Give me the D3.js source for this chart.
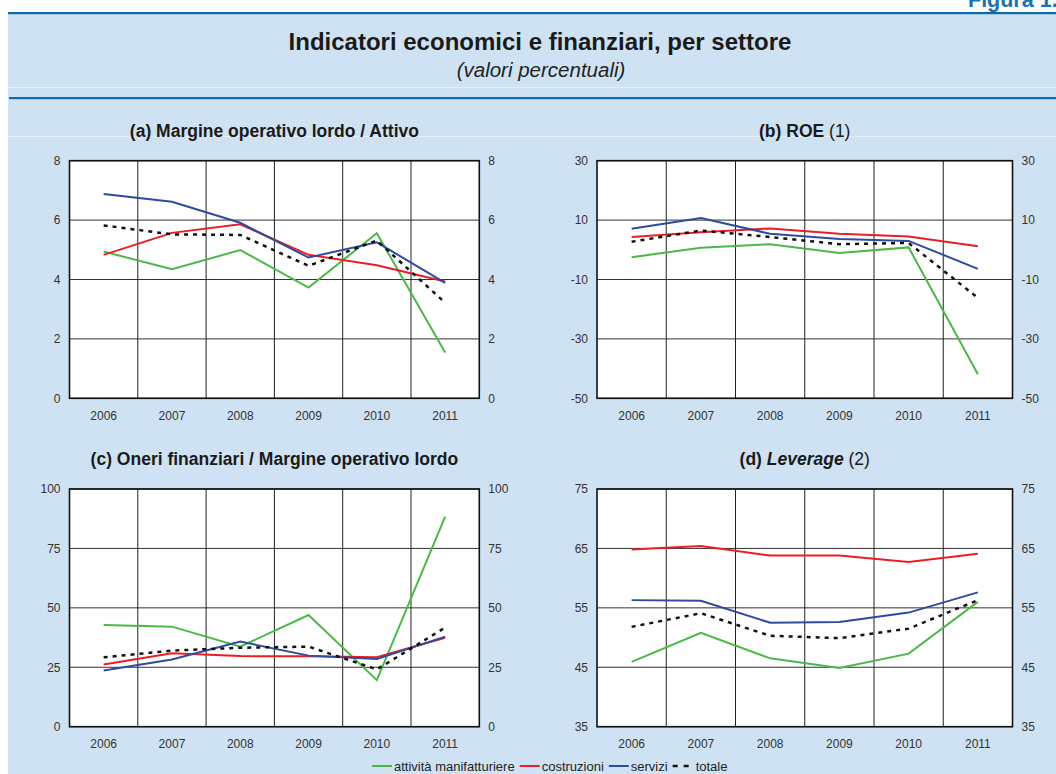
<!DOCTYPE html>
<html>
<head>
<meta charset="utf-8">
<script src="https://cdn.jsdelivr.net/npm/d3@7"></script>
<style>
  body { margin: 0; background: #fff; }
  svg { display: block; font-family: "Liberation Sans", Arial, sans-serif; }
</style>
</head>
<body>
<svg id="chart" width="1056" height="774"></svg>
<script>
// categories and series
const anni = ["2006", "2007", "2008", "2009", "2010", "2011"];
const settori = ["attività manifatturiere", "costruzioni", "servizi", "totale"];

// (a) Margine operativo lordo / Attivo
const molManif = [4.94, 4.35, 4.99, 3.73, 5.56, 1.54];
const molCostr = [4.83, 5.57, 5.86, 4.83, 4.48, 3.93];
const molServ  = [6.88, 6.62, 5.91, 4.74, 5.25, 3.89];
const molTot   = [5.82, 5.52, 5.50, 4.46, 5.31, 3.22];

// (b) ROE
const roeManif = [-2.5, 0.7, 1.9, -1.1, 0.8, -41.9];
const roeCostr = [4.3, 5.9, 7.2, 5.4, 4.5, 1.2];
const roeServ  = [7.1, 10.7, 5.4, 3.6, 3.0, -6.4];
const roeTot   = [2.7, 6.5, 4.3, 1.9, 2.3, -16.2];

// (c) Oneri finanziari / Margine operativo lordo
const oneriManif = [42.8, 42.1, 33.7, 47.0, 19.6, 88.4];
const oneriCostr = [26.2, 30.9, 29.7, 29.6, 29.2, 37.4];
const oneriServ  = [23.6, 28.3, 35.8, 29.9, 28.5, 37.9];
const oneriTot   = [29.2, 32.0, 33.2, 33.7, 24.1, 41.7];

// (d) Leverage
const levManif = [45.9, 50.8, 46.5, 44.9, 47.3, 56.0];
const levCostr = [64.8, 65.4, 63.8, 63.8, 62.7, 64.1];
const levServ  = [56.3, 56.2, 52.5, 52.6, 54.2, 57.6];
const levTot   = [51.8, 54.1, 50.3, 49.9, 51.5, 56.3];

// tick labels
const ticksA = [0, 2, 4, 6, 8];
const ticksB = [-50, -30, -10, 10, 30];
const ticksC = [0, 25, 50, 75, 100];
const ticksD = [35, 45, 55, 65, 75];

const colori = ["#4cb848", "#ec1c24", "#2d4b9f", "#111"];

const svg = d3.select("#chart");

// background frame
svg.append("rect").attr("x", 8).attr("y", 13).attr("width", 1048).attr("height", 761)
  .attr("fill", "#cfe2f3");
svg.append("rect").attr("x", 8).attr("y", 12).attr("width", 1048).attr("height", 2.2)
  .attr("fill", "#0a6aab");
svg.append("rect").attr("x", 9).attr("y", 97).attr("width", 1047).attr("height", 2.2)
  .attr("fill", "#0a6aab");
[87, 136].forEach(y => {
  svg.append("line").attr("x1", 8).attr("x2", 1056).attr("y1", y + 0.5).attr("y2", y + 0.5)
    .attr("stroke", "#fff").attr("stroke-opacity", 0.45);
});

svg.append("text").attr("x", 968).attr("y", 7)
  .attr("font-size", 21.5).attr("font-weight", "bold").attr("fill", "#1a72b5")
  .text("Figura 1.");

svg.append("text").attr("x", 540).attr("y", 50).attr("text-anchor", "middle")
  .attr("font-size", 24).attr("font-weight", "bold").attr("fill", "#1a1a1a")
  .text("Indicatori economici e finanziari, per settore");
svg.append("text").attr("x", 541).attr("y", 77).attr("text-anchor", "middle")
  .attr("font-size", 20.5).attr("font-style", "italic").attr("fill", "#222")
  .text("(valori percentuali)");

const panels = [
  { x0: 69.5, x1: 479.3, y0: 160.7, y1: 398.3, domain: [0, 8], ticks: ticksA,
    title: [["(a) Margine operativo lordo / Attivo", "bold", "normal"]],
    series: [molManif, molCostr, molServ, molTot] },
  { x0: 597, x1: 1012.5, y0: 160.7, y1: 398.3, domain: [-50, 30], ticks: ticksB,
    title: [["(b) ROE", "bold", "normal"], [" (1)", "normal", "normal"]],
    series: [roeManif, roeCostr, roeServ, roeTot] },
  { x0: 69.5, x1: 479.3, y0: 489, y1: 726.7, domain: [0, 100], ticks: ticksC,
    title: [["(c) Oneri finanziari / Margine operativo lordo", "bold", "normal"]],
    series: [oneriManif, oneriCostr, oneriServ, oneriTot] },
  { x0: 597, x1: 1012.5, y0: 489, y1: 726.7, domain: [35, 75], ticks: ticksD,
    title: [["(d) ", "bold", "normal"], ["Leverage", "bold", "italic"], [" (2)", "normal", "normal"]],
    series: [levManif, levCostr, levServ, levTot] }
];

const fmt = d => String(d); // plain hyphen for negatives, as in the source

panels.forEach(p => {
  const x = d3.scaleBand().domain(anni).range([p.x0, p.x1]);
  const y = d3.scaleLinear().domain(p.domain).range([p.y1, p.y0]);
  const g = svg.append("g");

  // title
  const t = g.append("text").attr("x", (p.x0 + p.x1) / 2).attr("y", p.y0 - 24)
    .attr("text-anchor", "middle").attr("font-size", 17.5).attr("fill", "#1a1a1a");
  p.title.forEach(s => t.append("tspan").attr("font-weight", s[1]).attr("font-style", s[2]).text(s[0]));

  g.append("rect").attr("x", p.x0).attr("y", p.y0)
    .attr("width", p.x1 - p.x0).attr("height", p.y1 - p.y0).attr("fill", "#fff");

  // horizontal grid
  g.selectAll(".hg").data(p.ticks).join("line")
    .attr("x1", p.x0).attr("x2", p.x1)
    .attr("y1", d => y(d)).attr("y2", d => y(d))
    .attr("stroke", "#333").attr("stroke-width", 1);
  // vertical grid at category boundaries
  g.selectAll(".vg").data(anni.slice(1)).join("line")
    .attr("x1", d => x(d)).attr("x2", d => x(d))
    .attr("y1", p.y0).attr("y2", p.y1)
    .attr("stroke", "#222").attr("stroke-width", 1);

  // axes
  const styleAxis = a => {
    a.select(".domain").remove();
    a.selectAll("text").attr("fill", "#333").attr("font-size", 12)
      .attr("font-family", "\"Liberation Sans\", Arial, sans-serif");
  };
  g.append("g").attr("transform", `translate(${p.x0},0)`)
    .call(d3.axisLeft(y).tickValues(p.ticks).tickFormat(fmt).tickSize(0).tickPadding(9))
    .call(styleAxis);
  g.append("g").attr("transform", `translate(${p.x1},0)`)
    .call(d3.axisRight(y).tickValues(p.ticks).tickFormat(fmt).tickSize(0).tickPadding(9))
    .call(styleAxis);
  g.append("g").attr("transform", `translate(0,${p.y1})`)
    .call(d3.axisBottom(x).tickSize(0).tickPadding(13))
    .call(styleAxis);

  // series
  const line = d3.line()
    .x((d, i) => x(anni[i]) + x.bandwidth() / 2)
    .y(d => y(d));
  p.series.forEach((s, k) => {
    g.append("path").datum(s).attr("d", line)
      .attr("fill", "none").attr("stroke", colori[k])
      .attr("stroke-width", k === 3 ? 2.5 : 2)
      .attr("stroke-dasharray", k === 3 ? "4,5" : null);
  });

  // frame
  g.append("rect").attr("x", p.x0).attr("y", p.y0)
    .attr("width", p.x1 - p.x0).attr("height", p.y1 - p.y0)
    .attr("fill", "none").attr("stroke", "#111").attr("stroke-width", 1.6);
});

// legend
const leg = svg.append("g").attr("transform", "translate(372,766)");
let lx = 0;
settori.forEach((s, k) => {
  const len = k === 3 ? 17 : 20;
  leg.append("line").attr("x1", lx).attr("x2", lx + len).attr("y1", 0).attr("y2", 0)
    .attr("stroke", colori[k]).attr("stroke-width", k === 3 ? 2.5 : 2)
    .attr("stroke-dasharray", k === 3 ? "5,6" : null);
  const tx = leg.append("text").attr("x", lx + len + (k === 3 ? 6 : 2)).attr("y", 4.5)
    .attr("font-size", 13).attr("fill", "#222").text(s);
  lx += len + (k === 3 ? 6 : 2) + tx.node().getComputedTextLength() + 5;
});
</script>
</body>
</html>
